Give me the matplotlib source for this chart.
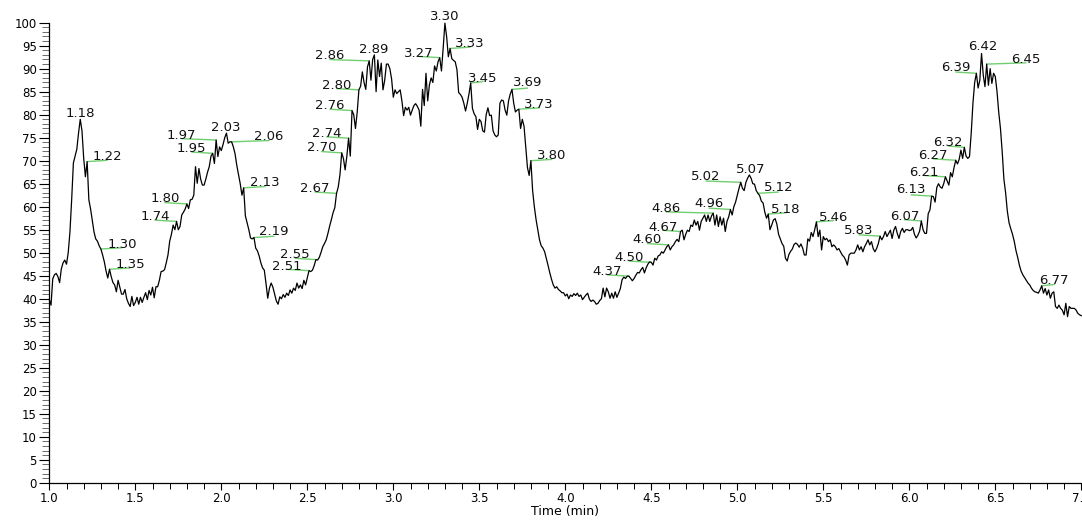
import numpy as np
import matplotlib
matplotlib.use("Agg")
import matplotlib.pyplot as plt
from matplotlib.ticker import MultipleLocator, FormatStrFormatter

# Chromatogram trace, sampled every 0.01 min from 1.00 min
time_start = 1.00
time_step = 0.01

signal_min1 = [
    39.8, 38.6, 44.3, 45.2, 45.5, 44.8, 43.5, 46.5, 47.8, 48.4,
    47.5, 50.0, 54.5, 61.5, 69.5, 71.0, 72.5, 76.0, 79.0, 76.5,
    70.5, 66.5, 69.8, 61.5, 59.5, 57.0, 54.5, 53.0, 52.5, 51.5,
    50.8, 49.5, 48.0, 46.0, 44.5, 46.4, 44.8, 43.5, 43.0, 41.5,
    44.0, 42.5, 41.0, 41.0, 42.0, 40.0, 39.0, 38.3, 40.5, 38.5,
    39.2, 40.3, 38.8, 40.3, 39.2, 40.3, 41.3, 39.8, 41.8, 40.8,
    42.5, 40.2, 42.6, 42.6, 44.0, 45.9, 46.0, 46.3, 47.8, 49.5,
    52.5, 54.0, 56.0, 55.0, 56.8, 55.0, 55.7, 58.2, 58.8, 59.5,
    60.6, 59.6, 61.5, 61.6, 62.5, 68.7, 65.1, 68.3, 66.0, 64.7,
    64.7, 66.0, 67.5, 68.7, 71.0, 71.6, 69.4, 74.5, 70.9, 73.0,
]
signal_min2 = [
    72.2, 73.5, 75.0, 76.0, 73.8, 74.1, 74.1, 73.0, 71.5, 69.0,
    67.0, 65.0, 62.5, 64.1, 58.0, 56.5, 55.0, 53.2, 53.0, 53.3,
    51.0, 50.4, 49.3, 47.8, 46.7, 46.2, 43.3, 40.1, 42.3, 43.4,
    42.5, 41.0, 39.5, 38.8, 40.4, 40.0, 40.9, 40.3, 41.2, 40.7,
    41.9, 41.2, 42.3, 41.8, 43.4, 42.3, 43.0, 42.2, 44.0, 43.0,
    44.6, 46.1, 45.9, 46.2, 47.2, 48.5, 48.4, 49.0, 50.1, 51.3,
    52.0, 52.8, 54.2, 55.8, 57.2, 58.7, 59.8, 62.9, 64.3, 67.0,
    71.7, 70.5, 68.0, 71.0, 74.9, 71.0, 80.9, 80.0, 77.0, 80.5,
    85.4, 86.2, 89.3, 87.0, 85.5, 90.4, 91.7, 87.5, 92.0, 93.0,
    85.0, 91.9, 88.3, 91.2, 85.4, 87.5, 91.0, 91.0, 90.0, 87.8,
]
signal_min3 = [
    83.8, 85.4, 84.6, 85.0, 85.4, 83.0, 79.8, 81.6, 81.0, 81.6,
    79.9, 81.0, 82.0, 82.4, 81.8, 81.0, 77.5, 85.5, 82.0, 89.0,
    83.0, 86.5, 88.0, 87.0, 90.6, 89.5, 91.5, 92.4, 89.5, 94.5,
    99.9, 97.0, 92.6, 94.4, 92.2, 91.8, 91.5, 89.8, 84.8, 84.4,
    83.8, 82.5, 80.8, 82.5, 84.5, 86.9, 81.4, 80.2, 79.6, 76.8,
    79.0, 78.5, 76.5, 76.2, 80.0, 81.5, 79.8, 79.9, 76.5, 75.6,
    75.2, 75.6, 82.5, 83.2, 83.0, 81.0, 79.9, 83.0, 84.5, 85.5,
    82.5, 80.6, 81.0, 81.2, 77.0, 79.0, 77.5, 73.0, 68.5, 66.8,
    70.0, 63.5, 60.0, 57.2, 55.0, 52.8, 51.5, 51.0, 50.2, 48.7,
    47.2, 45.6, 44.2, 43.0, 42.3, 42.6, 42.0, 41.7, 41.3, 41.3,
]
signal_min4 = [
    40.6, 41.0, 40.0, 40.8, 40.5, 41.1, 40.7, 41.2, 40.5, 40.8,
    39.8, 40.3, 40.8, 41.2, 39.9, 39.4, 39.7, 39.4, 38.8, 39.0,
    39.6, 40.0, 42.3, 40.4, 42.3, 41.5, 40.1, 41.2, 40.1, 41.5,
    40.3, 41.2, 42.2, 44.1, 44.7, 44.4, 44.9, 44.9, 44.4, 43.9,
    44.4, 45.1, 45.7, 45.6, 46.3, 46.8, 45.6, 46.7, 47.5, 48.0,
    47.9, 47.3, 48.8, 48.4, 49.3, 49.5, 50.2, 49.9, 50.6, 51.3,
    51.7, 50.6, 51.3, 51.7, 52.4, 52.9, 52.4, 54.6, 54.9, 52.8,
    54.0, 54.9, 54.6, 56.0, 55.7, 57.1, 56.0, 56.8, 54.9, 56.8,
    57.5, 58.2, 56.8, 58.2, 56.8, 58.0, 58.6, 56.0, 58.2, 55.7,
    57.8, 56.0, 57.5, 54.6, 56.8, 57.8, 59.4, 58.2, 60.0, 61.0,
]
signal_min5 = [
    62.5, 64.0, 65.3, 64.0, 63.5, 65.3, 66.2, 66.9, 66.2, 65.0,
    64.9, 63.5, 62.9, 62.4, 61.2, 60.8, 58.8, 57.5, 58.4, 55.0,
    56.0, 57.1, 57.4, 56.2, 54.0, 53.0, 52.0, 51.4, 48.8, 48.2,
    49.6, 50.3, 50.8, 51.8, 52.1, 51.8, 51.2, 51.9, 51.0, 49.5,
    49.5, 53.0, 52.5, 54.4, 53.5, 55.0, 56.7, 53.5, 54.9, 50.6,
    53.5, 52.8, 53.1, 52.4, 52.8, 51.3, 51.7, 51.3, 50.6, 50.9,
    50.2, 49.5, 49.1, 48.4, 47.3, 49.5, 49.9, 49.9, 49.9, 50.6,
    51.7, 50.6, 51.3, 50.2, 51.3, 52.0, 52.8, 51.7, 52.4, 50.9,
    50.2, 50.9, 52.0, 53.6, 52.8, 53.5, 54.6, 53.5, 54.2, 54.9,
    53.1, 54.9, 55.7, 54.2, 53.1, 54.6, 55.3, 54.4, 55.0, 55.0,
]
signal_min6 = [
    54.8, 54.9, 55.5, 54.0, 53.2, 53.8, 54.7, 56.9, 55.0, 54.2,
    54.2, 58.5, 59.3, 62.3, 62.2, 61.0, 64.2, 65.0, 64.3, 64.0,
    65.0, 66.5, 65.6, 64.7, 67.4, 66.5, 68.5, 70.1, 69.3, 70.3,
    72.3, 70.5, 72.9, 71.0, 70.5, 70.9, 76.0, 82.5, 87.0, 89.0,
    85.8, 87.5, 93.3, 88.6, 86.1, 91.0, 86.4, 90.0, 86.8, 89.0,
    88.3, 85.0, 80.5, 77.0, 72.0, 66.0, 63.0, 59.0, 56.5, 55.2,
    54.0, 52.5, 50.5, 49.0, 47.3, 46.0, 45.2, 44.6, 44.0, 43.4,
    43.0, 42.3, 41.8, 41.5, 41.4, 41.2, 41.9, 42.8, 41.2, 42.2,
    40.8, 41.9, 40.1, 41.2, 41.5, 38.3, 37.9, 38.6, 37.9, 37.5,
    36.5, 39.0, 36.1, 38.3, 37.9, 37.9, 37.9, 37.5, 36.8, 36.5,
    36.3,
]

# Retention times of the labelled peaks
peak_times = [
    1.18, 1.22, 1.30, 1.35, 1.74, 1.80, 1.95, 1.97, 2.03, 2.06,
    2.13, 2.19, 2.51, 2.55, 2.67, 2.70, 2.74, 2.76, 2.80, 2.86,
    2.89, 3.27, 3.30, 3.33, 3.45, 3.69, 3.73, 3.80, 4.37, 4.50,
    4.60, 4.67, 4.86, 4.96, 5.02, 5.07, 5.12, 5.18, 5.46, 5.83,
    6.07, 6.13, 6.21, 6.27, 6.32, 6.39, 6.42, 6.45, 6.77,
]

# Label placement: (dx, dy) in pixels from the labelled point to the text centre
label_offsets = [
    (0, 7.0), (20, 6.6), (21, 5.7), (20.5, 6.0), (-21.6, 6.4),
    (-22, 6.6), (-21, 6.3), (-34.4, 5.7), (-0.8, 7.1), (37.4, 6.8),
    (21.3, 6.8), (20, 6.8), (-22.3, 5.6), (-20.9, 6.3), (-21.5, 6.1),
    (-20, 6.9), (-21.9, 5.9), (-22, 6.3), (-22.2, 5.6), (-39.2, 6.9),
    (-1, 6.6), (-21.4, 5.4), (-0.6, 8.2), (19.9, 6.2), (12.3, 5.7),
    (15.5, 7.7), (20.4, 5.9), (20.8, 6.4), (-21.6, 6.2), (-22, 6.4),
    (-21, 6.6), (-17.7, 5.5), (-47.2, 5.8), (-21.4, 6.8), (-34.7, 7.3),
    (1.4, 6.7), (20.5, 6.7), (17.9, 5.8), (17.1, 5.9), (-21.1, 6.8),
    (-17, 5.9), (-20.6, 7.4), (-21.4, 5.8), (-22.4, 6.2), (-16, 6.4),
    (-20.7, 6.6), (0.8, 7.8), (39.3, 5.8), (12.6, 6.8),
]

signal = np.concatenate([signal_min1, signal_min2, signal_min3,
                         signal_min4, signal_min5, signal_min6])
time = time_start + time_step * np.arange(len(signal))

W, H = 1082, 520
fig = plt.figure(figsize=(W / 100, H / 100), dpi=100)
ax = fig.add_axes([49.3 / W, 37.3 / H, 1032 / W, 460 / H])

ax.plot(time, signal, color="black", lw=0.9, clip_on=False, zorder=3)

ax.set_xlim(1.0, 7.0)
ax.set_ylim(0, 100)
ax.spines["top"].set_visible(False)
ax.spines["right"].set_visible(False)
for s in ("left", "bottom"):
    ax.spines[s].set_linewidth(0.9)

ax.xaxis.set_major_locator(MultipleLocator(0.5))
ax.xaxis.set_minor_locator(MultipleLocator(0.1))
ax.yaxis.set_major_locator(MultipleLocator(5))
ax.yaxis.set_minor_locator(MultipleLocator(1))
ax.xaxis.set_major_formatter(FormatStrFormatter("%.1f"))

ax.tick_params(axis="x", which="major", length=5, width=0.8, pad=2, labelsize=8.5)
ax.tick_params(axis="x", which="minor", length=4, width=0.7)
ax.tick_params(axis="y", which="major", length=7, width=0.8, pad=2, labelsize=8.5)
ax.tick_params(axis="y", which="minor", length=5, width=0.6, color="#555555")
for lab in ax.get_xticklabels() + ax.get_yticklabels():
    lab.set_family("DejaVu Sans")

xlabel = ax.set_xlabel("Time (min)", fontsize=9, family="DejaVu Sans")
xlabel.set_verticalalignment("center")
ax.xaxis.set_label_coords(0.5, -29.0 / 460)

leader_color = "#6fcf6f"
for t, (dx, dy) in zip(peak_times, label_offsets):
    i = int(round((t - time_start) / time_step))
    v = signal[i]
    if abs(dx) > 3:
        ax.annotate("", xy=(t, v), xytext=(dx, 1.3), textcoords="offset pixels",
                    arrowprops=dict(arrowstyle="-", color=leader_color, lw=1.0,
                                    shrinkA=0, shrinkB=0), zorder=2)
    ax.annotate(f"{t:.2f}", xy=(t, v), xytext=(dx, dy - 4.7),
                textcoords="offset pixels", ha="center", va="baseline",
                fontsize=9.5, family="DejaVu Sans", color="#111111", zorder=4)

fig.savefig("out.png", dpi=100)
